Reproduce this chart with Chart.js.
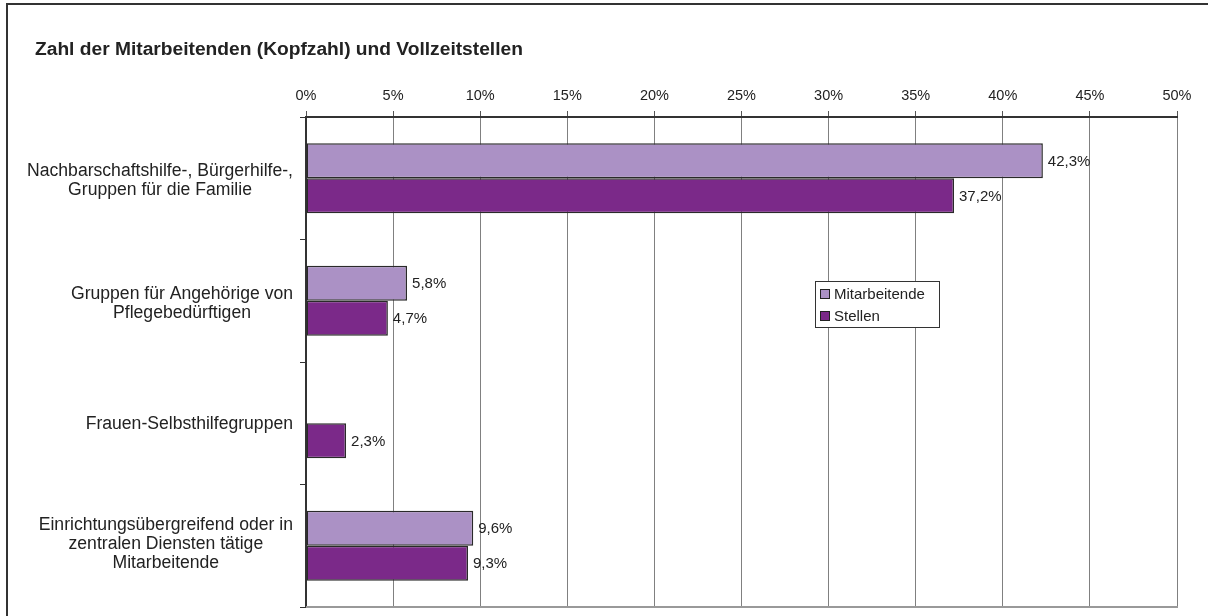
<!DOCTYPE html>
<html lang="de">
<head>
<meta charset="utf-8">
<script src="https://cdn.jsdelivr.net/npm/chart.js@4.4.0/dist/chart.umd.min.js"></script>
<style>
  html, body { margin: 0; padding: 0; background: #fff; }
  #wrap { width: 1208px; height: 616px; position: relative; }
</style>
</head>
<body>
<div id="wrap"><canvas id="chart"></canvas></div>
<script>
/* ---------- data ---------- */
const TITLE = 'Zahl der Mitarbeitenden (Kopfzahl) und Vollzeitstellen';

const categories = [
  ['Nachbarschaftshilfe-, Bürgerhilfe-,', 'Gruppen für die Familie'],
  ['Gruppen für Angehörige von', 'Pflegebedürftigen'],
  ['Frauen-Selbsthilfegruppen'],
  ['Einrichtungsübergreifend oder in', 'zentralen Diensten tätige', 'Mitarbeitende']
];
const seriesNames = ['Mitarbeitende', 'Stellen'];
const mitarbeitende = [42.3, 5.8, null, 9.6];
const stellen = [37.2, 4.7, 2.3, 9.3];
const xTicks = [0, 5, 10, 15, 20, 25, 30, 35, 40, 45, 50];

const COL_LIGHT = '#ab91c5';
const COL_DARK = '#7b2989';
const FONT = '"Liberation Sans", Arial, sans-serif';

const fmt = v => v.toFixed(1).replace('.', ',') + '%';

/* ---------- frame, title, plot bottom ---------- */
const framePlugin = {
  id: 'frame',
  beforeDraw(chart) {
    const { ctx } = chart;
    ctx.save();
    ctx.fillStyle = '#fff';
    ctx.fillRect(0, 0, chart.width, chart.height);
    ctx.strokeStyle = '#333';
    ctx.lineWidth = 2;
    ctx.beginPath();
    ctx.moveTo(7, chart.height + 5);
    ctx.lineTo(7, 4);
    ctx.lineTo(chart.width + 5, 4);
    ctx.stroke();

    ctx.font = 'bold 19.2px ' + FONT;
    ctx.fillStyle = '#222';
    ctx.textAlign = 'left';
    ctx.textBaseline = 'middle';
    ctx.fillText(TITLE, 35, 50);
    ctx.restore();
  },
  afterDraw(chart) {
    const { ctx, chartArea } = chart;
    ctx.save();
    ctx.strokeStyle = '#999';
    ctx.lineWidth = 2;
    ctx.beginPath();
    ctx.moveTo(chartArea.left, chartArea.bottom);
    ctx.lineTo(chartArea.right + 1, chartArea.bottom);
    ctx.stroke();
    ctx.restore();
  }
};

/* ---------- category labels (right block, centred lines) ---------- */
const catLabelsPlugin = {
  id: 'catLabels',
  afterDraw(chart) {
    const { ctx } = chart;
    const y = chart.scales.y;
    ctx.save();
    ctx.font = '17.6px ' + FONT;
    ctx.fillStyle = '#222';
    ctx.textAlign = 'center';
    ctx.textBaseline = 'middle';
    const lh = 18.8;
    const right = 293;
    categories.forEach((lines, i) => {
      const widest = Math.max(...lines.map(l => ctx.measureText(l).width));
      const cx = right - widest / 2;
      const cy = y.getPixelForValue(i) + (lines.length === 2 ? 2.5 : (lines.length === 3 ? -1.5 : 0.5));
      const y0 = cy - (lines.length - 1) * lh / 2;
      lines.forEach((l, j) => ctx.fillText(l, cx, y0 + j * lh));
    });
    ctx.restore();
  }
};

/* ---------- value labels ---------- */
const valueLabelsPlugin = {
  id: 'valueLabels',
  afterDatasetsDraw(chart) {
    const { ctx } = chart;
    ctx.save();
    ctx.font = '15px ' + FONT;
    ctx.fillStyle = '#222';
    ctx.textAlign = 'left';
    ctx.textBaseline = 'middle';
    chart.data.datasets.forEach((ds, di) => {
      const meta = chart.getDatasetMeta(di);
      meta.data.forEach((el, i) => {
        const v = ds.data[i];
        if (v === null || v === undefined) return;
        ctx.fillText(fmt(v), el.x + 5, el.y + 1);
      });
    });
    ctx.restore();
  }
};

/* ---------- legend box ---------- */
const legendBoxPlugin = {
  id: 'legendBox',
  afterDraw(chart) {
    const { ctx } = chart;
    const bx = 815, by = 281, bw = 124, bh = 46;
    ctx.save();
    ctx.fillStyle = '#fff';
    ctx.fillRect(bx, by, bw, bh);
    ctx.strokeStyle = '#333';
    ctx.lineWidth = 1;
    ctx.strokeRect(bx + 0.5, by + 0.5, bw, bh);
    ctx.font = '15px ' + FONT;
    ctx.textAlign = 'left';
    ctx.textBaseline = 'middle';
    chart.data.datasets.forEach((ds, i) => {
      const cy = by + 13 + i * 22;
      ctx.fillStyle = ds.backgroundColor;
      ctx.fillRect(bx + 5, cy - 5, 10, 10);
      ctx.strokeStyle = '#222';
      ctx.strokeRect(bx + 5.5, cy - 4.5, 9, 9);
      ctx.fillStyle = '#222';
      ctx.fillText(ds.label, bx + 19, cy + 1);
    });
    ctx.restore();
  }
};

/* ---------- chart ---------- */
new Chart(document.getElementById('chart'), {
  type: 'bar',
  data: {
    labels: categories,
    datasets: [
      {
        label: seriesNames[0],
        data: mitarbeitende,
        backgroundColor: COL_LIGHT,
        borderColor: '#2a2a2a',
        borderWidth: 1.5,
        borderSkipped: false
      },
      {
        label: seriesNames[1],
        data: stellen,
        backgroundColor: COL_DARK,
        borderColor: '#2a2a2a',
        borderWidth: 1.5,
        borderSkipped: false
      }
    ]
  },
  options: {
    indexAxis: 'y',
    responsive: true,
    maintainAspectRatio: false,
    animation: false,
    categoryPercentage: 0.5714,
    barPercentage: 1,
    layout: { padding: { top: 0, left: 0, right: 31, bottom: 9 } },
    plugins: {
      legend: { display: false },
      title: { display: false },
      tooltip: { enabled: false }
    },
    scales: {
      x: {
        position: 'top',
        min: 0,
        max: 50,
        afterBuildTicks(scale) {
          scale.ticks = xTicks.map(v => ({ value: v }));
        },
        afterFit(scale) { scale.height = 117; },
        ticks: {
          callback: v => v + '%',
          font: { family: FONT, size: 14.5 },
          color: '#222',
          padding: 6,
          maxRotation: 0
        },
        grid: {
          color: '#808080',
          lineWidth: 1,
          tickLength: 6,
          tickColor: '#555'
        },
        border: { display: true, color: '#333', width: 2 }
      },
      y: {
        afterFit(scale) { scale.width = 306; },
        ticks: { display: false },
        grid: {
          drawOnChartArea: false,
          drawTicks: true,
          tickLength: 6,
          color: '#333',
          offset: true
        },
        border: { display: true, color: '#333', width: 2 }
      }
    }
  },
  plugins: [framePlugin, catLabelsPlugin, valueLabelsPlugin, legendBoxPlugin]
});
</script>
</body>
</html>
